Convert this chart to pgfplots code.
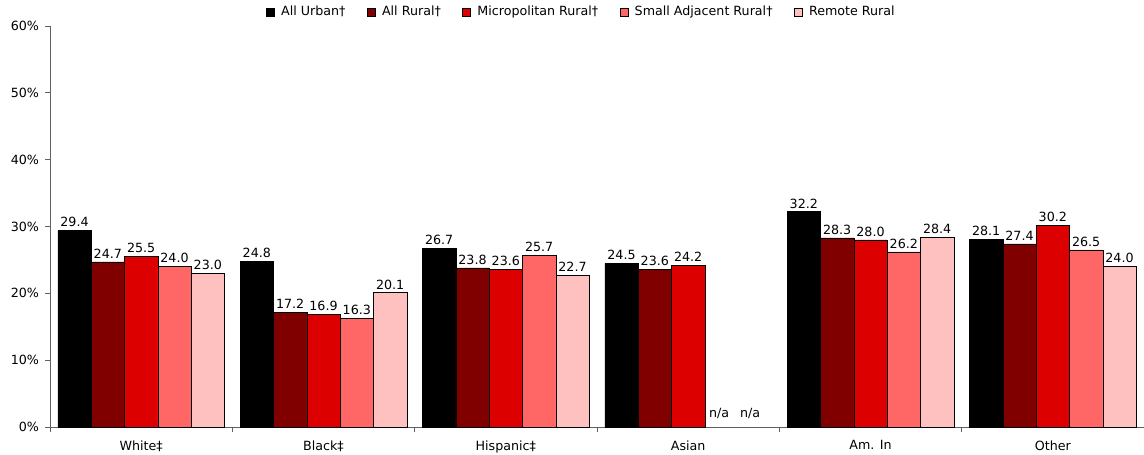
\documentclass[border=0pt]{standalone}
\usepackage{pgfplots}
\pgfplotsset{compat=1.18}
\usepackage{fontspec}
\setmainfont{DejaVu Sans}

\definecolor{cUrban}{HTML}{000000}
\definecolor{cRural}{HTML}{800000}
\definecolor{cMicro}{HTML}{DD0000}
\definecolor{cSmall}{HTML}{FF6666}
\definecolor{cRemote}{HTML}{FFC0C0}
\definecolor{axisgray}{HTML}{606060}

\begin{document}
\begin{tikzpicture}
\useasboundingbox (0,0) rectangle (858pt,340.5pt);
\begin{axis}[
  at={(37.5pt,20.25pt)}, anchor=south west,
  scale only axis, width=820.5pt, height=300.75pt,
  xmin=-0.5, xmax=5.5, ymin=0, ymax=60,
  axis x line*=bottom, axis y line*=left,
  axis line style={draw=axisgray, line width=0.6pt},
  ybar=0pt, bar width=25pt,
  tick align=outside,
  major tick length=3.75pt,
  ytick={0,10,20,30,40,50,60},
  yticklabels={0\%,10\%,20\%,30\%,40\%,50\%,60\%},
  ytick style={draw=axisgray, line width=0.6pt},
  xtick={0,1,2,3,4,5},
  xticklabels={White‡,Black‡,Hispanic‡,Asian,Am. In,Other},
  xtick style={draw=none},
  minor xtick={-0.5,0.5,1.5,2.5,3.5,4.5,5.5},
  minor x tick style={draw=axisgray, line width=0.6pt},
  minor tick length=3.75pt,
  ticklabel style={font=\fontsize{9.5pt}{11pt}\selectfont},
  yticklabel style={xshift=-1pt},
  xticklabel style={yshift=-3pt},
  /pgf/number format/assume math mode=true,
  nodes near coords,
  every node near coord/.append style={font=\fontsize{9.5pt}{11pt}\selectfont, anchor=south, yshift=-1pt,
    /pgf/number format/.cd, fixed, fixed zerofill, precision=1},
  every axis plot/.append style={draw=black, line width=0.5pt},
  legend style={at={(0.486,1.035)}, anchor=center, draw=none, fill=none,
    font=\fontsize{9.5pt}{11pt}\selectfont, legend columns=-1,
    /tikz/every odd column/.append style={column sep=3pt},
    /tikz/every even column/.append style={column sep=14pt}},
  legend image code/.code={\draw[#1, draw=black, line width=0.4pt] (0pt,-3pt) rectangle (6pt,3pt);},
  clip=false,
]
\addplot[fill=cUrban] coordinates {(0,29.4) (1,24.8) (2,26.7) (3,24.5) (4,32.2) (5,28.1)};
\addplot[fill=cRural] coordinates {(0,24.7) (1,17.2) (2,23.8) (3,23.6) (4,28.3) (5,27.4)};
\addplot[fill=cMicro] coordinates {(0,25.5) (1,16.9) (2,23.6) (3,24.2) (4,28.0) (5,30.2)};
\addplot[fill=cSmall] coordinates {(0,24.0) (1,16.3) (2,25.7) (4,26.2) (5,26.5)};
\addplot[fill=cRemote] coordinates {(0,23.0) (1,20.1) (2,22.7) (4,28.4) (5,24.0)};
\legend{All Urban†,All Rural†,Micropolitan Rural†,Small Adjacent Rural†,Remote Rural}
\node[font=\fontsize{9.5pt}{11pt}\selectfont, anchor=south, yshift=3pt] at (axis cs:3.17,0) {n/a};
\node[font=\fontsize{9.5pt}{11pt}\selectfont, anchor=south, yshift=3pt] at (axis cs:3.34,0) {n/a};
\end{axis}
\end{tikzpicture}
\end{document}
